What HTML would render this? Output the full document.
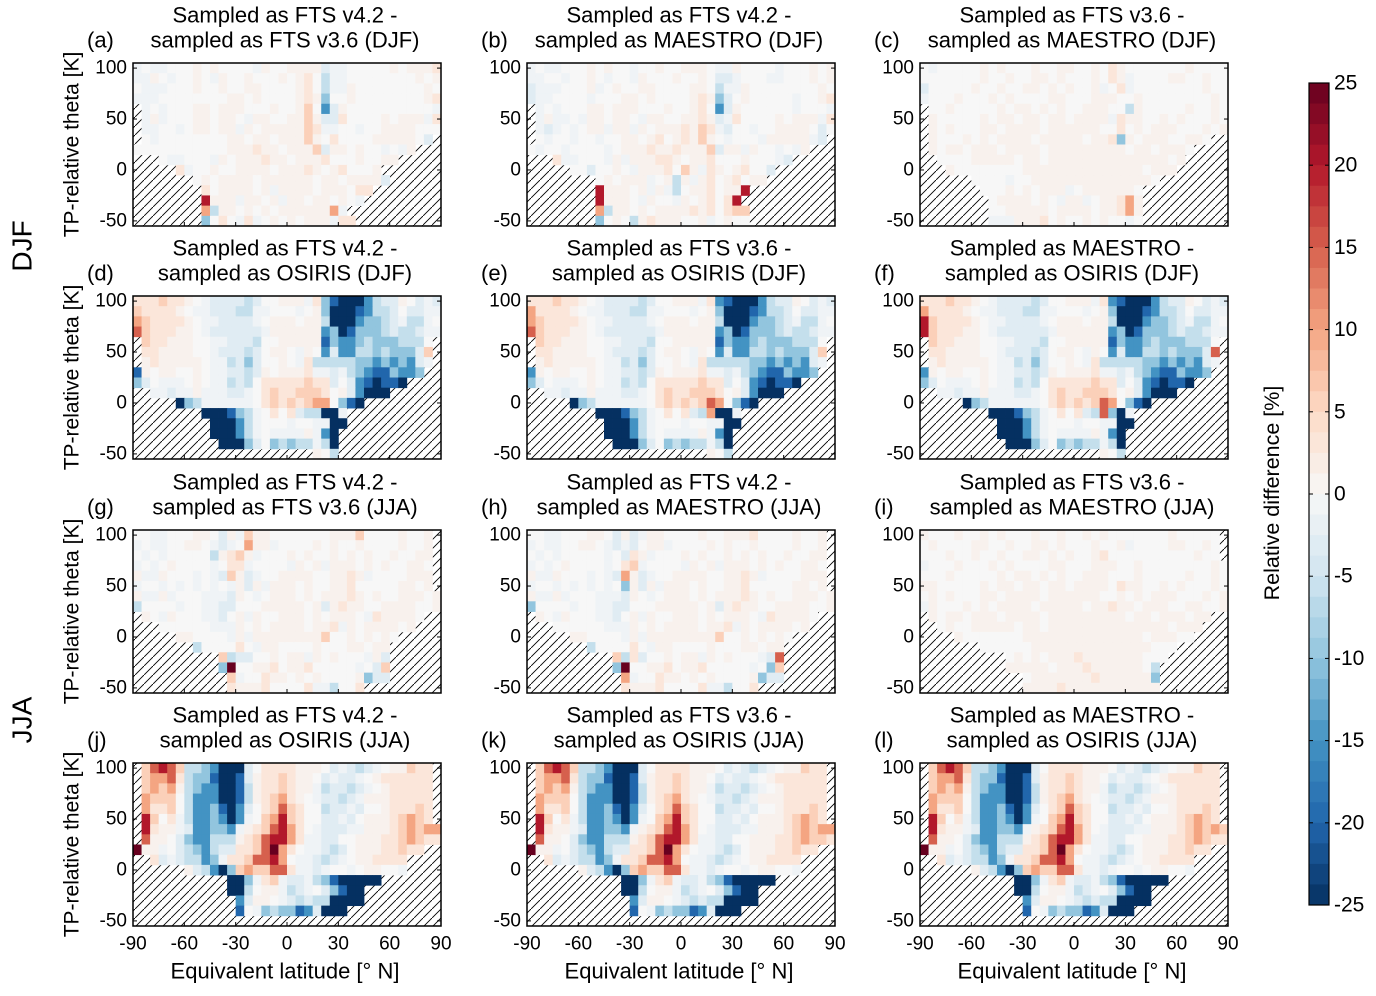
<!DOCTYPE html>
<html><head><meta charset="utf-8"><style>
html,body{margin:0;padding:0;background:#fff;}
svg text{font-family:"Liberation Sans",Arial,sans-serif;fill:#000;}
</style></head><body>
<svg id="fig" width="1376" height="991" viewBox="0 0 1376 991" xmlns="http://www.w3.org/2000/svg">
<defs>
<pattern id="hatch" patternUnits="userSpaceOnUse" width="9" height="9">
<path d="M-1,10 L10,-1" stroke="#000" stroke-width="0.9"/>
</pattern>
</defs>
<text x="22" y="246" font-size="28" transform="rotate(-90 22 246)" text-anchor="middle" dominant-baseline="central">DJF</text>
<text x="22" y="720" font-size="28" transform="rotate(-90 22 720)" text-anchor="middle" dominant-baseline="central">JJA</text>
<text x="1272" y="493" font-size="21.5" transform="rotate(-90 1272 493)" text-anchor="middle" dominant-baseline="central">Relative difference [%]</text>
</svg>
<script>
// Level code -> relative difference [%]; '.' = no data (hatched)
const levelCodes = ['A','B','C','D','E','F','G','H','I','J','K','L','M','N','O'];
const levelValues = [-25,-20,-15,-10,-6,-3,-1,0,1,3,6,10,15,20,25];
const latCategories = [-87.5,-82.5,-77.5,-72.5,-67.5,-62.5,-57.5,-52.5,-47.5,-42.5,-37.5,-32.5,-27.5,-22.5,-17.5,-12.5,-7.5,-2.5,2.5,7.5,12.5,17.5,22.5,27.5,32.5,37.5,42.5,47.5,52.5,57.5,62.5,67.5,72.5,77.5,82.5,87.5];
const thetaCategories = [100,90,80,70,60,50,40,30,20,10,0,-10,-20,-30,-40,-50];
const xTicks = [-90,-60,-30,0,30,60,90];
const yTicks = [100,50,0,-50];
const cbTicks = [25,20,15,10,5,0,-5,-10,-15,-20,-25];

const gridA = [
"GHGGHHHIHIHHHHGIHHIIIIFGGHHHHHIHIIIJ",
"GGIHGHHIHGIHHIHHHIHIJHEGGHHHHHHHHIHI",
"HGGGHHHIHHIHHIIHHHHIJHEGGIHHHHHHHHIH",
"GGGHHHHHHHHIIHIHHHHIJIDHHIHHHHHHHHIJ",
".GHGHHHIIHIIIHHHIHHIKHCFIHHHHHHHHHHG",
".GIGHHHIIHIIHGIIHHIIKIFFJHHHHIHIIIGJ",
".GGHHGHIIHIIGIHIIIIIKJGGHHGHHIIIIHHH",
".HGHHHHHHHHIIHIIHIIIKIHJHHHHIIIIIHF.",
"HHHHHHHHHHHIIIJIIHIIIKFIIHIHHGHGI...",
"...HGGHHHGIHIIIJIIHIIIJHHHIHHII.....",
".....JGHHIHHIIIIHIIIJIHIJHHHI.......",
".......HIHIIIIHIIIIIIHIIHIIIIF......",
"........JHIIIIHIGIIIIHIIIHJJ........",
"........NIIIGIIHIGIIHIIHIHG.........",
"........LEIIHIHIHIIIIIILG...........",
"........DHJHGJGHIHIHIIIGJJ.........."];
const gridB = [
"GHGGHHHIHIHHGHHIHHIIIHGGIHHHHGHHHIHI",
"GGHHGHHIHGHHGIHHHIHHIHFFGHHHGGHHHIHI",
"FGGGHHHIGHIHHIIHHHHIIHEGGIHHHHHHHHIH",
"FGGHHHHGHHHIIHIHHHHIJIDFHIHHHHHGHHIJ",
".GHGHHHIIHIIIHHHIHHIJHCFIHHHHHHGHHHG",
".GIGGHGIIHIIHGIIHHIIJIFGJHHHHIHIIIGJ",
".GFGHGHIIGIIGIHIIIJIKJGFHHGHHIIIIHFH",
".HGHHGHHGHHIIHIJHIJIKIHGHHHGIIIIIGF.",
"HGHHGHHHHGHIIIJIIJIIIKFIIGIHHGHGI...",
"...JGGHHHGIGIIIJJIHIIJHHHIHHHGF.....",
".....HHFHHIHGIIIJHKIGJIHIJHHF.......",
"........HIHIIIGHIEIGIJHIJHII........",
"........NIIIHIGIGEHIIJHIIN..........",
"........NIIIHGIHHGIHIJHJN...........",
"........LEIIHIHIIIIJIJHJKK..........",
"........DHIHEIJIIIHHIGHIHH.........."];
const gridC = [
"HGHHHHHIHIHHHIHHIIHHIHJIHHHHHHHIHHHH",
"HHHHHHHIHHIHHIIHIHHHIHJIGHHHHIIHHIHH",
"FHHHHHIHHIHHIIHIHIHHIGHJGHHHHHHHHIHH",
"GHHHIHHHIHIHHHHIIHHHIIIHHIHHHHHHHHIH",
".HHIHHHHHIHIIHIHIHHIIIHHEIHHHHHIHHIH",
".IHHHHHIHIIHIIHIIHIIIIGJIIHHIHIHHHIH",
".IHIHHHIIHIIIIHIIIIIIHHJHIHIIIHHHIHI",
".IHHHIHIHIIIIHIIIIIHIIJDIHIIIHHIIH..",
".IHIIHIIIHIIIIHIIIIIIIIIHIIHIIIH....",
"..HHHHIIIIIHIIHIIIIIIIIIIIIIIHI.....",
"...IHHHHHHHHIIIIIIIIIIIIIIHIII......",
"......HHHHGHHIIIIIIIIIIIIIIH........",
".......HHHIHIHIIIGHIIIIIIH..........",
"........HIIIIHIHGIIGHIIJLI..........",
"........HHIIIIIHIIIIHIIJLI..........",
"........GGGIIIJHIHHIHIHHGH.........."];
const gridD = [
"JJJKJJIHGFFFFEFHHIIIGJDBAAACEFFIHFGF",
"KJJJJIHGGFFFEEGGHHHGHIDAAABCEEFHFFGG",
"LKJJJJIHGGFFFFGHIIIHIIEAAACDDEFGEEGH",
"MKJJJIIHGFFFFFFGIIIIIICDABDDDEFEEFGG",
".KJJIIIHHGGFFFEHHIIIIIBDCCDEDDDEEEH.",
".JJIIIIHHGFFFEFHIIHGIHCFCCEEDEDDDFK.",
".IJIIIIIHGGEFDFHHIHGJEEEEEDDCDCDCFG.",
"BIHIIHHIHGGFFEFIHIIIJGGFGEDCBBDCCD..",
"DFHGGGHIHGGEFEHJJJJJKJJFHFCBABBA....",
"..GGFGGIGGGFFGHJKJJKKKJHIFCAAA......",
".....ADEGGGGGGHJKJKJKLLHDBA.........",
"........AAABDEGHJHJFEEAAG...........",
".........AAACEGHHHGHHGGAA...........",
".........AAACEGHGGGGIGCA............",
"..........AAADFHDEDEEGEA............",
".....................IHE............"];
const gridE = [
"JJJKJJIHGFFFFEFHHIIIGJCBAAACEFFIHFGF",
"LJJJJIHGGFFFEEGGHHHGHIDAAABCEEFHFFGG",
"LKJJJJIHGGFFFFGHIIIHIIEAAACDDEFGEEGH",
"MKJJJIIHGFFFFFFGIIIIIICDABDDDEFEEFGG",
".KJJIIIHHGGFFFEHHIIIIIBDCCDEDDDEEEH.",
".JJIIIIHHGFFFEFHIIHGIHCFCCEEDEDDDFK.",
".IJIIIIIHGGEFDFHHIHGJEEEEEDDCDCDCFG.",
"CIHIIHHIHGGFFEFIHIIIJGGFGEDCBBDCCD..",
"DFHGGGHIHGGEFEHJJJJJKJJFHFCBABBA....",
"..GGFGGIGGGFFGHJKJJKKKJHIFCAAA......",
".....ADEGGGGGGHJKJKJKMLHDBA.........",
"........AAABDEGHJHJFELAAG...........",
".........AAACEGHHHGHHGGAA...........",
".........AAACEGHGGGGIGCA............",
"..........AAADFHDEDEEGEA............",
".....................IHE............"];
const gridF = [
"JJJKJJIHGFFFFEFHHIIIGJCBAAACEFFIHFGF",
"LJJJJIHGGFFFEEGGHHHGHIDAAABCEEFHFFGG",
"NKJJJJIHGGFFFFGHIIIHIIEAAACDDEFGEEGH",
"NKJJJIIHGFFFFFFGIIIIIICDABDDDEFEEFGG",
".KJJIIIHHGGFFFEHHIIIIIBDCCDEDDDEEEH.",
".JJIIIIHHGFFFEFHIIHGIHCFCCEEDEDDDFM.",
".IJIIIIIHGGEFDFHHIHGJEEEEEDDCDCDCFG.",
"CIHIIHHIHGGFFEFIHIIIJGGFGEDCBBDCCD..",
"DFHGGGHIHGGEFEHJJJJJKJJFHFCBABBA....",
"..GGFGGIGGGFFGHJKJJKKKJHIFCAAA......",
".....ADEGGGGGGHJKJKJKMLHDBA.........",
"........AAABDEGHJHJFEMDAG...........",
".........AAACEGHHHGHHGGAA...........",
".........AAACEGHGGGGIGCA............",
"..........AAADFHDEDEEGEA............",
".....................IHE............"];
const gridG = [
"HHGGHHHIIHFIGKIIHHHHHHHIIIKHHHHIHHI.",
"GHGGHHIIHGFGHLIIGHHHHIHIHHIHHHHIHHI.",
"HGHGHHHHHEIJKIGHHHIHIHHIHIHIHHIHHII.",
"GHGHIHHHHGHJJGHHHHGIHIGIIIHIHIHHIIH.",
"IGGIHHHGHGFKIFGHHIIIIHHIIJIGHHHHIII.",
"GHHGHGHGHGHGIFIGIIIHIHHIIJHHHHHIIHI.",
"IGGIGHHHGGGFIHGHIIIHIHIIIJIHIHHIIIHI",
"EHHHHGHHGGFFHHHIIIIIHIFIJIIHHIIIIHHI",
".IHGIHHHGGFHIGIHHIIIHIHIIIHGJIIIIH..",
"...HHHHHHGGGIHIHIIIIHIIJGIHIIIIHI...",
".....IIHHHHGIGIIIIIIIIKHHIHIHIH.....",
".......EHHHHJHGIIHHHHIHHHIIHII......",
"..........KEFFHHIHIIGIHIHHHGIF......",
"..........DOHHIIJHIIJHHHHHGHFK......",
"...........KGHHJIIHIHIHHHHIDFF......",
"...........JIIIJHHHHJGGEHHJ........."];
const gridH = [
"HHGGHHHIIHFIFGIIHHHHIHHIIIJHHHHIHHI.",
"GHGGHHIIHGFGFHIIGHHHHIHIHHIHHHHIHHI.",
"HGHGHHHHHGHFJIGHHHIHIHHIHIHIHHIHHII.",
"GHGHIHHHHGHJKGHHHHGIHIGIIIHIHIHHIIH.",
"IGGIHHHGHGFLIFGHHIIIIHHIIJIGHHHHIII.",
"GHHGHGHGHGHDIFIGIIIHIHHIIJHHHHHIIHI.",
"IGGIGHHHGGGFIHGHIIIHIHIIIJIHIHHIIIHI",
"DHHHHGHHGGFFHHHIIIIIHIFIJIIHHIIIIHHI",
".IHGIHHHGGFHIGIHHIIIHIHIIIHGJIIIIH..",
"...HHHHHHGGGIHIHIIIIHIIJGIHIIIIHI...",
".....IIHHHHGIGIIIIIIIIKHHIHIHIH.....",
".......EHHHHJHGIIHHHHIHHHIIHII......",
"..........KEJFHHIHIIGIHIHHHGFM......",
"..........DOHHIIJHIIJHHHHHGHDK......",
"...........LGHHJIIHIHIHHHHIDFF......",
"...........JIIIJHHHHJGGEHHJ........."];
const gridI = [
"IHHHIHHIHIHHHIHHIHHIHIHHHHHHHIHHHHH.",
"HIHHHHIIHHIHHIIHIHHHIHHIGHHHHIIHHIH.",
"HHHIHHIHHIHHIIHIHIHHIJHHHHHHHHHHIHH.",
"GHHHIHHHIHIHHHHIIHHHIIIHHIHHHHHHHHIH",
"HHHIHHHHHIHIIHIHIHHIIIHHHIHHHHHIHHIH",
"IIHHHHHIHIIHIIHIIHIIIIHJIIHHIHIHHHIH",
"HIHIHHHIIHIIIIHIIIIIIHHIHIHIIIHHHIHI",
"GIHHHIHIHIIIIHIIIIIHIIJIIHIIIHHIIHHI",
".IHIIHIIIHIIIIHIIIIIIIIIHIIHIIIHII..",
"..HIHHIIIIIHIIHIIIIIIIIIIIIIIHIII...",
"....IHHHHHHHIIIIIIIIIIIIIIHIIIHH....",
".......HHHHHHIIIIIIIIIIIIIIHHH......",
"..........HIHIHIIIJIIIIIIIHHH.......",
"..........IIIIIHIIIJIIIIIIHE........",
"............HIIIIIIIJIIIIIID........",
"............IIIIJIIIIIIIIIII........"];
const gridJ = [
".KMNMKEEDCAAAFHJJJJIIIHFGFEFGHIIKJJ.",
".KLLMJEDDBAABFIJJKJIIHFGFFGHIJJJJJJ.",
".KLKLIEDCCAABEIJJKJIIGEFFEFGHIJJJJJ.",
".LKKKHECCCAABEIJKLJIHGFFEFGIIIJJJJJ.",
".LJJKHECCDBACFHJKMKJHHEFFGFHHIJJJKJ.",
".NKHJGECCDCACGHKLNKJHHFFGFHIIIJKLKJ.",
".NJIIGFCCDDCGIJKMNLJHGFFFGGIIIJKLKLL",
".MIIHFDCCEEEIJKMNNLJGGFFHHIIIJJKLKJJ",
"OIIGHFEDCEFFJJKMOLJHGGFEFHIIIJJKJJ..",
"..JFGFEECDGJJKMMNLHGGFEFGHIIJJJJ....",
"......IFECADKLKKMMJGGFGHHGHIIHHG....",
"...........AADGJKGFFGEDBAAAAA.......",
"...........AAEHIIGEFGHFDBAA.........",
"............CFIIHGFEFEEAAAA.........",
"............BHGDEDDBCFAAA...........",
"...................................."];
const gridK = [
".KMNMKEEDCAAAFHJJJJIIIHFGFEFGHIIKJJ.",
".KLLMJEDDBAABFIJJKJIIHFGFFGHIJJJJJJ.",
".KLKLIEDCCAABEIJJKJIIGEFFEFGHIJJJJJ.",
".LKKKHECCCAABEIJKLJIHGFFEFGIIIJJJJJ.",
".LJJKHECCDBACFHJKMKJHHEFFGFHHIJJJKJ.",
".NKHJGECCDCACGHKLNKJHHFFGFHIIIJKLKJ.",
".NJIIGFCCDDCGIJKMNLJHGFFFGGIIIJKLKLL",
".MIIHFDCCEEEIJKMNNLJGGFFHHIIIJJKLKKJ",
"OIIGHFEDCEFFJJKMOLJHGGFEFHIIIJJKJJ..",
"..JFGFEECDGJJKMMNLHGGFEFGHIIJJJJ....",
"......IFECADKLKKMMJGGFGHHGHIIHHG....",
"...........AADGJKGFFGEDBAAAAA.......",
"...........AAEHIIGEFGHFDBAA.........",
"............CFIIHGFEFEEAAAA.........",
"............BHGDEDDBCFAAA...........",
"...................................."];
const gridL = [
".KMNMKEEDCAAAFHJJJJIIIHFGFEFGHIIKJJ.",
".KLLMJEDDBAABFIJJKJIIHFGFFGHIJJJJJJ.",
".KLKLIEDCCAABEIJJKJIIGEFFEFGHIJJJJJ.",
".LKKKHECCCAABEIJKLJIHGFFEFGIIIJJJJJ.",
".LJJKHECCDBACFHJKMKJHHEFFGFHHIJJJKJ.",
".NKHJGECCDCACGHKLNKJHHFFGFHIIIJKLKJ.",
".NJIIGFCCDDCGIJKMNLJHGFFFGGIIIJKLKLK",
".MIIHFDCCEEEIJKMNNLJGGFFHHIIIJJKLKJJ",
"OIIGHFEDCEFFJJKMOLJHGGFEFHIIIJJKJJ..",
"..JFGFEECDGJJKMMNLHGGFEFGHIIJJJJ....",
"......IFECADKLKKMMJGGFGHHGHIIHHG....",
"...........AADGJKGFFGEDBAAAAA.......",
"...........AAEHIIGEFGHFDBAA.........",
"............CFIIHGFEFEEAAAA.........",
"............BHGDEDDBCFAAA...........",
"...................................."];
const panelLetters = ['(a)','(b)','(c)','(d)','(e)','(f)','(g)','(h)','(i)','(j)','(k)','(l)'];
const titles1 = ['Sampled as FTS v4.2 -','Sampled as FTS v4.2 -','Sampled as FTS v3.6 -','Sampled as FTS v4.2 -','Sampled as FTS v3.6 -','Sampled as MAESTRO -','Sampled as FTS v4.2 -','Sampled as FTS v4.2 -','Sampled as FTS v3.6 -','Sampled as FTS v4.2 -','Sampled as FTS v3.6 -','Sampled as MAESTRO -'];
const titles2 = ['sampled as FTS v3.6 (DJF)','sampled as MAESTRO (DJF)','sampled as MAESTRO (DJF)','sampled as OSIRIS (DJF)','sampled as OSIRIS (DJF)','sampled as OSIRIS (DJF)','sampled as FTS v3.6 (JJA)','sampled as MAESTRO (JJA)','sampled as MAESTRO (JJA)','sampled as OSIRIS (JJA)','sampled as OSIRIS (JJA)','sampled as OSIRIS (JJA)'];
const grids = [gridA,gridB,gridC,gridD,gridE,gridF,gridG,gridH,gridI,gridJ,gridK,gridL];

const NS='http://www.w3.org/2000/svg';
const svg=document.getElementById('fig');
const colX=[133,527,920], rowY=[63,296,530,763], PW=308, PH=163;
const anchors=[[5,48,97],[33,102,172],[67,147,195],[146,197,222],[209,229,240],[247,247,247],[253,219,199],[244,165,130],[214,96,77],[178,24,43],[103,0,31]];
function cmap(v){
  let t=(Math.max(-25,Math.min(25,v))+25)/5; let i=Math.min(9,Math.floor(t)); let f=t-i;
  const a=anchors[i], b=anchors[i+1];
  return 'rgb('+a.map((c,k)=>Math.round(c+(b[k]-c)*f)).join(',')+')';
}
function el(tag,attrs,parent){const e=document.createElementNS(NS,tag);for(const k in attrs)e.setAttribute(k,attrs[k]);(parent||svg).appendChild(e);return e;}
function txt(s,attrs,parent){const e=el('text',attrs,parent);e.textContent=s;return e;}

for(let p=0;p<12;p++){
  const X=colX[p%3], Y=rowY[Math.floor(p/3)];
  const xs=lat=>X+(lat+90)/180*PW;
  const ys=th=>Y+(105-th)/160*PH;
  const g=el('g',{});
  
  
  const bg=el('rect',{x:X,y:Y,width:PW,height:PH,fill:'url(#hatch)'},g);
  
  
  const grid=grids[p];
  for(let r=0;r<thetaCategories.length;r++){
    const row=(grid[r]||'').padEnd(36,'.');
    for(let c=0;c<latCategories.length;c++){
      const ch=row[c]; const idx=levelCodes.indexOf(ch);
      if(idx<0) continue;
      const x0=xs(latCategories[c]-2.5), x1=xs(latCategories[c]+2.5);
      const y0=ys(thetaCategories[r]+5), y1=ys(thetaCategories[r]-5);
      const cell=el('rect',{x:x0.toFixed(2),y:y0.toFixed(2),width:(x1-x0+0.4).toFixed(2),height:(y1-y0+0.4).toFixed(2),fill:cmap(levelValues[idx])},g);
      
      
    }
  }
  const fr=el('rect',{x:X,y:Y,width:PW,height:PH,fill:'none',stroke:'#000','stroke-width':1.5},g);
  
  
  yTicks.forEach(t=>{
    const y=ys(t);
    el('line',{x1:X,x2:X+4,y1:y,y2:y,stroke:'#000'},g);
    el('line',{x1:X+PW-4,x2:X+PW,y1:y,y2:y,stroke:'#000'},g);
    const l=txt(String(t),{x:X-6,y:y,'font-size':19,'text-anchor':'end','dominant-baseline':'central'},g);
    
    
  });
  xTicks.forEach(t=>{
    const x=xs(t);
    el('line',{x1:x,x2:x,y1:Y+PH-4,y2:Y+PH,stroke:'#000'},g);
    if(p>=9){
      const l=txt(String(t),{x:x,y:944,'font-size':19,'text-anchor':'middle','dominant-baseline':'central'},g);
      
      
    }
  });
  const cx=X+152;
  const t1=txt(titles1[p],{x:cx,y:Y-48,'font-size':22,'text-anchor':'middle','dominant-baseline':'central'},g);
  
  
  const t2=txt(titles2[p],{x:cx,y:Y-23,'font-size':22,'text-anchor':'middle','dominant-baseline':'central'},g);
  
  
  const pl=txt(panelLetters[p],{x:X-46,y:Y-23,'font-size':22,'dominant-baseline':'central'},g);
  
  
  if(p%3===0){
    const cy=Y+PH/2;
    const yl=txt('TP-relative theta [K]',{x:72,y:cy,'font-size':21,'text-anchor':'middle','dominant-baseline':'central',transform:'rotate(-90 72 '+cy+')'},g);
    
    
  }
  if(p>=9){
    const xl=txt('Equivalent latitude [° N]',{x:X+152,y:971,'font-size':22,'text-anchor':'middle','dominant-baseline':'central'},g);
    
    
  }
}
// colorbar
const cbX=1309, cbY0=83, cbY1=905, cbW=20;
const cb=el('g',{});


const cbv=v=>cbY0+(25-v)/50*(cbY1-cbY0);
for(let i=0;i<40;i++){
  const v0=25-i*1.25, v1=v0-1.25;
  el('rect',{x:cbX,y:cbv(v0),width:cbW,height:cbv(v1)-cbv(v0)+0.5,fill:cmap((v0+v1)/2)},cb);
}
el('rect',{x:cbX,y:cbY0,width:cbW,height:cbY1-cbY0,fill:'none',stroke:'#000','stroke-width':1.2},cb);
cbTicks.forEach(t=>{
  const y=cbv(t);
  el('line',{x1:cbX,x2:cbX+4,y1:y,y2:y,stroke:'#000'},cb);
  el('line',{x1:cbX+cbW-4,x2:cbX+cbW,y1:y,y2:y,stroke:'#000'},cb);
  const l=txt(String(t),{x:cbX+cbW+5,y:y,'font-size':21,'dominant-baseline':'central'},cb);
  
  
});
</script>
</body></html>
